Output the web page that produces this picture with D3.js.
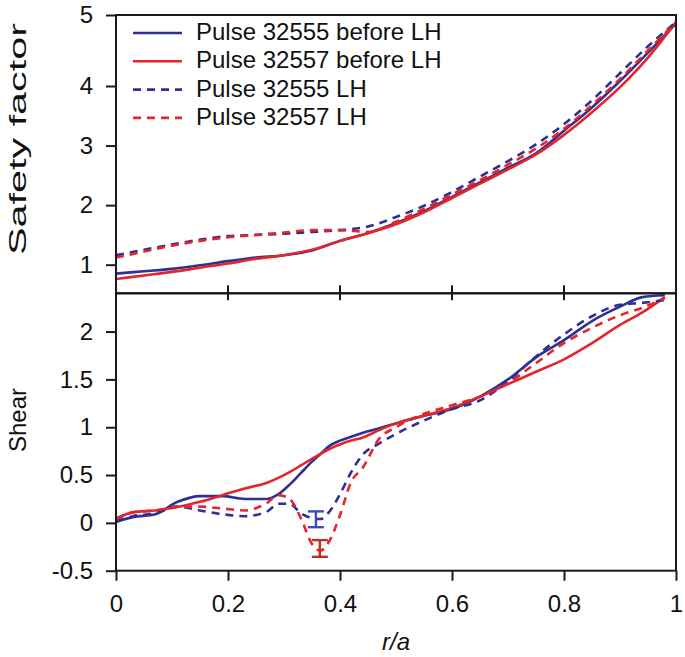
<!DOCTYPE html>
<html>
<head>
<meta charset="utf-8">
<script src="https://cdn.jsdelivr.net/npm/d3@7"></script>
<style>
  html, body { margin: 0; padding: 0; background: #fff; }
  svg text { font-family: "Liberation Sans", Arial, Helvetica, sans-serif; fill: #111; }
</style>
</head>
<body>
<svg id="chart" width="685" height="657"></svg>
<script>
// ---------- data ----------
const seriesNames = ["Pulse 32555 before LH", "Pulse 32557 before LH", "Pulse 32555 LH", "Pulse 32557 LH"];

// Safety factor (top panel)
const rTop = [0, 0.05, 0.1, 0.15, 0.2, 0.25, 0.3, 0.35, 0.4, 0.45, 0.5, 0.55, 0.6, 0.65, 0.7, 0.75, 0.8, 0.85, 0.9, 0.95, 1.0];
const qBlueBefore = [0.85, 0.89, 0.93, 0.99, 1.06, 1.12, 1.16, 1.24, 1.40, 1.53, 1.70, 1.90, 2.14, 2.38, 2.63, 2.87, 3.25, 3.64, 4.07, 4.47, 4.88];
const qRedBefore  = [0.76, 0.82, 0.88, 0.95, 1.02, 1.10, 1.16, 1.25, 1.40, 1.53, 1.68, 1.88, 2.12, 2.36, 2.60, 2.85, 3.18, 3.56, 3.98, 4.40, 4.90];
const qBlueLH     = [1.16, 1.25, 1.34, 1.42, 1.48, 1.50, 1.52, 1.55, 1.58, 1.64, 1.80, 1.99, 2.22, 2.48, 2.74, 3.02, 3.36, 3.76, 4.18, 4.56, 4.90];
const qRedLH      = [1.12, 1.22, 1.32, 1.40, 1.46, 1.50, 1.54, 1.58, 1.58, 1.55, 1.72, 1.94, 2.18, 2.42, 2.68, 2.95, 3.28, 3.68, 4.10, 4.50, 4.90];

// Shear (bottom panel)
const rBottom = [0, 0.03, 0.07, 0.11, 0.15, 0.19, 0.23, 0.27, 0.29, 0.31, 0.33, 0.35, 0.365, 0.38, 0.40, 0.42, 0.44, 0.47, 0.50, 0.55, 0.60, 0.65, 0.70, 0.75, 0.80, 0.85, 0.90, 0.94, 0.98];
const sBlueBefore = [0.01, 0.06, 0.09, 0.22, 0.28, 0.28, 0.25, 0.25, 0.30, 0.40, 0.52, 0.64, 0.72, 0.80, 0.86, 0.90, 0.94, 0.99, 1.04, 1.12, 1.19, 1.32, 1.50, 1.73, 1.91, 2.11, 2.26, 2.36, 2.38];
const sRedBefore  = [0.045, 0.11, 0.13, 0.165, 0.22, 0.29, 0.36, 0.42, 0.47, 0.53, 0.60, 0.67, 0.72, 0.77, 0.82, 0.86, 0.89, 0.97, 1.04, 1.12, 1.20, 1.32, 1.45, 1.58, 1.71, 1.88, 2.07, 2.20, 2.36];
const sBlueLH     = [0.02, 0.07, 0.10, 0.17, 0.13, 0.09, 0.07, 0.12, 0.20, 0.20, 0.10, 0.05, 0.04, 0.11, 0.30, 0.53, 0.71, 0.83, 0.93, 1.07, 1.19, 1.28, 1.48, 1.74, 1.97, 2.16, 2.28, 2.30, 2.33];
const sRedLH      = [0.04, 0.11, 0.13, 0.17, 0.17, 0.15, 0.13, 0.21, 0.29, 0.25, 0.05, -0.22, -0.29, -0.20, 0.08, 0.43, 0.57, 0.88, 1.00, 1.14, 1.23, 1.32, 1.46, 1.67, 1.88, 2.04, 2.17, 2.25, 2.35];

// Error bars at the shear minimum (LH phase)
const errR    = [0.357, 0.364];
const errLow  = [-0.045, -0.355];
const errHigh = [0.12, -0.18];

const xTicks = [0, 0.2, 0.4, 0.6, 0.8, 1];
const qTicks = [1, 2, 3, 4, 5];
const sTicks = [-0.5, 0, 0.5, 1, 1.5, 2];

// ---------- layout ----------
const BLUE = "#2e3192", RED = "#e2262c";
const BLUE_ERR = "#3a4fb5", RED_ERR = "#c22b2b";
const L = 116, R = 676, T1 = 15, MID = 293.3, B2 = 570.7;

const svg = d3.select("#chart");
const x = d3.scaleLinear().domain([0, 1]).range([L, R]);
const yq = d3.scaleLinear().domain([0.52, 4, 5]).range([MID, 86, T1]);
const ys = d3.scaleLinear().domain([-0.5, 2.4]).range([B2, MID]);

const defs = svg.append("defs");
defs.append("clipPath").attr("id", "clipTop").append("rect")
  .attr("x", L).attr("y", T1).attr("width", R - L).attr("height", MID - T1);
defs.append("clipPath").attr("id", "clipBot").append("rect")
  .attr("x", L).attr("y", MID).attr("width", R - L).attr("height", B2 - MID);

const styles = [
  { color: BLUE, dash: null },
  { color: RED, dash: null },
  { color: BLUE, dash: "8,6" },
  { color: RED, dash: "8,6" }
];

function drawLines(g, rs, sets, yScale) {
  const line = d3.line().x((d, i) => x(rs[i])).y(d => yScale(d)).curve(d3.curveMonotoneX);
  sets.forEach((vals, k) => {
    g.append("path").datum(vals)
      .attr("d", line)
      .attr("fill", "none")
      .attr("stroke", styles[k].color)
      .attr("stroke-width", 2.6)
      .attr("stroke-dasharray", styles[k].dash)
      .attr("stroke-linejoin", "round");
  });
}

const gTop = svg.append("g").attr("clip-path", "url(#clipTop)");
drawLines(gTop, rTop, [qBlueBefore, qRedBefore, qBlueLH, qRedLH], yq);

const gBot = svg.append("g").attr("clip-path", "url(#clipBot)");
drawLines(gBot, rBottom, [sBlueBefore, sRedBefore, sBlueLH, sRedLH], ys);

// error bars
const errColors = [BLUE_ERR, RED_ERR];
errR.forEach((r, i) => {
  const g = svg.append("g").attr("stroke", errColors[i]).attr("stroke-width", 2.4);
  g.append("line").attr("x1", x(r)).attr("x2", x(r)).attr("y1", ys(errLow[i])).attr("y2", ys(errHigh[i]));
  [errLow[i], errHigh[i]].forEach(v => {
    g.append("line").attr("x1", x(r) - 8).attr("x2", x(r) + 8).attr("y1", ys(v)).attr("y2", ys(v));
  });
});

// frames
const frameColor = "#1a1a1a";
[[T1, MID], [MID, B2]].forEach(([t, b]) => {
  svg.append("rect").attr("x", L).attr("y", t).attr("width", R - L).attr("height", b - t)
    .attr("fill", "none").attr("stroke", frameColor).attr("stroke-width", 2);
});

const FS = 24;
const fmt = d => String(d);   // plain hyphen-minus like the reference

const xAxis = d3.axisBottom(x).tickValues(xTicks).tickSize(10).tickPadding(14).tickFormat(fmt);
const gx = svg.append("g").attr("transform", `translate(0,${B2})`).call(xAxis);
gx.select(".domain").remove();
gx.selectAll("line").attr("stroke", frameColor).attr("stroke-width", 2);
gx.selectAll("text").attr("font-size", FS).style("fill", "#111");

// shared middle ticks (crossing the border)
svg.append("g").selectAll("line").data(xTicks.filter(d => d > 0 && d < 1)).join("line")
  .attr("x1", d => x(d)).attr("x2", d => x(d))
  .attr("y1", MID - 8).attr("y2", MID + 7)
  .attr("stroke", frameColor).attr("stroke-width", 2);

function leftAxis(scale, ticks) {
  const ax = d3.axisLeft(scale).tickValues(ticks).tickSize(10).tickPadding(13).tickFormat(fmt);
  const g = svg.append("g").attr("transform", `translate(${L},0)`).call(ax);
  g.select(".domain").remove();
  g.selectAll("line").attr("stroke", frameColor).attr("stroke-width", 2);
  g.selectAll("text").attr("font-size", FS).style("fill", "#111");
  return g;
}
leftAxis(yq, qTicks);
leftAxis(ys, sTicks);

// axis titles
svg.append("text").attr("transform", "translate(26,139) rotate(-90)")
  .attr("text-anchor", "middle").attr("font-size", FS)
  .attr("textLength", 232).attr("lengthAdjust", "spacingAndGlyphs")
  .text("Safety factor");
svg.append("text").attr("transform", "translate(26,420) rotate(-90)")
  .attr("text-anchor", "middle").attr("font-size", FS).text("Shear");
svg.append("text").attr("x", 396).attr("y", 650).attr("text-anchor", "middle")
  .attr("font-size", FS).attr("font-style", "italic").text("r/a");

// legend
const lg = svg.append("g");
seriesNames.forEach((name, i) => {
  const base = 40 + i * 28.3;
  lg.append("line").attr("x1", 133).attr("x2", 182).attr("y1", base - 7).attr("y2", base - 7)
    .attr("stroke", styles[i].color).attr("stroke-width", 2.6)
    .attr("stroke-dasharray", styles[i].dash ? "8,6" : null);
  lg.append("text").attr("x", 196).attr("y", base).attr("font-size", FS).text(name);
});
</script>
</body>
</html>
